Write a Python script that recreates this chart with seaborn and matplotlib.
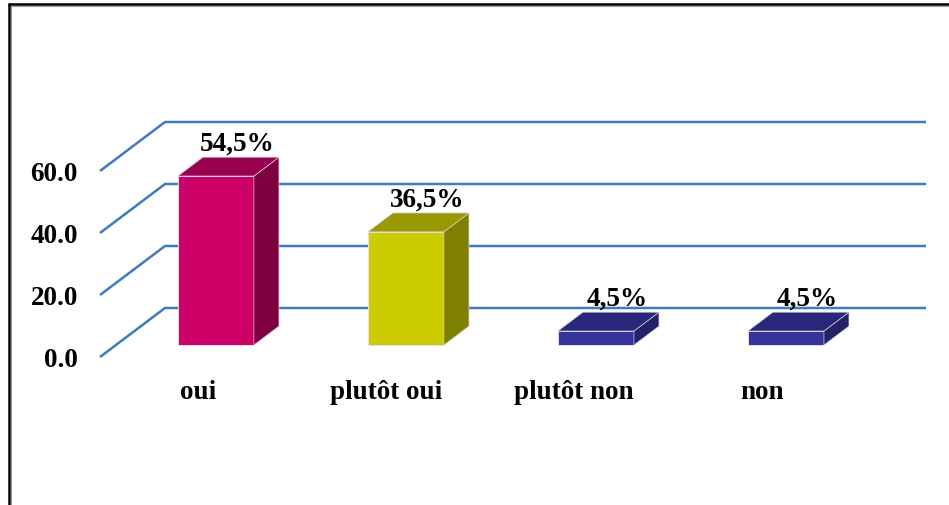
import matplotlib
matplotlib.use("Agg")
import matplotlib.pyplot as plt
from matplotlib.patches import Polygon
from matplotlib.lines import Line2D
import seaborn as sns
import pandas as pd

categories = ["oui", "plutôt oui", "plutôt non", "non"]
values = [54.5, 36.5, 4.5, 4.5]
value_labels = ["54,5%", "36,5%", "4,5%", "4,5%"]
grid_values = [0, 20, 40, 60]
grid_labels = ["0.0", "20.0", "40.0", "60.0"]

front_colors = ["#CC0066", "#CCCC00", "#333399", "#333399"]
side_colors = ["#80003F", "#808000", "#222266", "#222266"]
top_colors = ["#990050", "#9A9A00", "#28287A", "#28287A"]

sns.set_theme(style="white")
plt.rcParams["font.family"] = ["Liberation Serif", "DejaVu Serif"]
plt.rcParams["font.weight"] = "bold"

W, H, DPI = 949, 506, 100
FS = 19.5
fig = plt.figure(figsize=(W / DPI, H / DPI), dpi=DPI)
ax = fig.add_axes([0, 0, 1, 1])

df = pd.DataFrame({"cat": categories, "val": values})
sns.barplot(data=df, x="cat", y="val", hue="cat", palette=front_colors,
            width=0.4, legend=False, ax=ax, saturation=1,
            edgecolor="#E8DCEB", linewidth=0.7, zorder=5)

# pixel scale of the axes
PX_X = 190.0          # pixels per category step
PX_Y = 3.1            # pixels per value unit
X0_PX, Y0_PX = 200.0, 358.0
ax.set_xlim(-X0_PX / PX_X, (W - X0_PX) / PX_X)
ax.set_ylim(-(H - Y0_PX) / PX_Y, Y0_PX / PX_Y)
ax.axis("off")

# depth of the floor (full depth offset) in data units
DX = 65 / PX_X
DY = 49 / PX_Y
D_FRONT, D_BACK = 0.245, 0.63
grid_x0 = -100 / PX_X
grid_x1 = (926 - X0_PX) / PX_X - DX

grid_color = "#3F7BBF"
for gv in grid_values:
    ax.plot([grid_x0, grid_x0 + DX, grid_x1 + DX], [gv, gv + DY, gv + DY],
            color=grid_color, lw=1.8, zorder=1, solid_capstyle="butt")
for gv, gl in zip(grid_values, grid_labels):
    ax.annotate(gl, (grid_x0, gv), xytext=(-16, -1.5),
                textcoords="offset points", ha="right", va="center",
                fontsize=FS, fontweight="bold", color="black")

sx, sy = DX * D_FRONT, DY * D_FRONT
bx, by = DX * (D_BACK - D_FRONT), DY * (D_BACK - D_FRONT)
for i, p in enumerate(ax.patches):
    x, w, h = p.get_x(), p.get_width(), p.get_height()
    p.set_x(x + sx)
    p.set_y(sy)
    x0, x1 = x + sx, x + sx + w
    y0, y1 = sy, sy + h
    side = Polygon([(x1, y0), (x1 + bx, y0 + by), (x1 + bx, y1 + by), (x1, y1)],
                   closed=True, facecolor=side_colors[i], edgecolor="#D9C8DD",
                   lw=0.5, zorder=5)
    top = Polygon([(x0, y1), (x0 + bx, y1 + by), (x1 + bx, y1 + by), (x1, y1)],
                  closed=True, facecolor=top_colors[i], edgecolor="#D9C8DD",
                  lw=0.5, zorder=5)
    ax.add_patch(side)
    ax.add_patch(top)
    ax.annotate(value_labels[i], ((x0 + x1) / 2 + bx - 0.02, y1 + by),
                xytext=(0, 1), textcoords="offset points", ha="center",
                va="bottom", fontsize=FS, fontweight="bold", color="black",
                zorder=6)
    ax.annotate(categories[i], ((x0 + x1) / 2 - sx, 0),
                xytext=(-1.5 - 1.5 * i, -25), textcoords="offset points",
                ha="center", va="center", fontsize=FS, fontweight="bold",
                color="black")

# outer frame (top and left edges)
fx, fy = 9 / W, 1 - 5 / H
fig.add_artist(Line2D([fx, 1], [fy, fy], transform=fig.transFigure,
                      color="black", lw=1.8))
fig.add_artist(Line2D([fx, fx], [0, fy], transform=fig.transFigure,
                      color="black", lw=1.8))
fig.add_artist(Line2D([fx + 1.5 / W, 1], [fy - 1.5 / H, fy - 1.5 / H],
                      transform=fig.transFigure, color="#999999", lw=0.8))
fig.add_artist(Line2D([fx + 1.5 / W, fx + 1.5 / W], [0, fy - 1.5 / H],
                      transform=fig.transFigure, color="#999999", lw=0.8))

fig.savefig("out.png", dpi=DPI)
